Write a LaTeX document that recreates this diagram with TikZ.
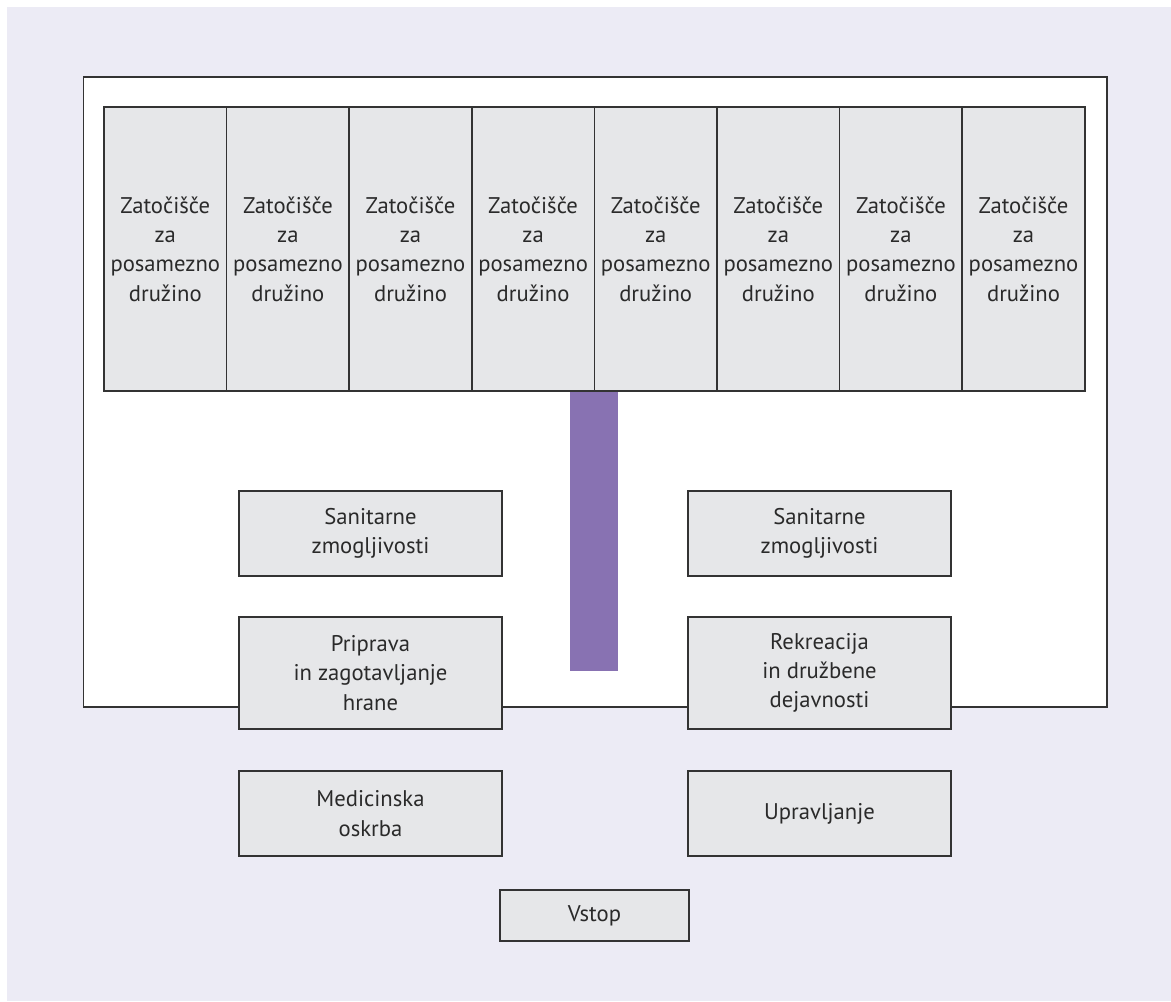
\documentclass[tikz,border=0pt]{standalone}
\usepackage{fontspec}
\setmainfont{PT Sans}
\definecolor{lav}{HTML}{ECEBF5}
\definecolor{cellgray}{HTML}{E6E7E9}
\definecolor{bordergray}{HTML}{333333}
\definecolor{purplebar}{HTML}{8872B2}
\definecolor{txt}{HTML}{2A2A2A}
\begin{document}
\begin{tikzpicture}[x=0.75pt,y=-0.75pt,
  cell/.style={draw=bordergray,line width=1.1pt,fill=cellgray,inner sep=0pt,
    minimum width=91.97pt,minimum height=213pt,align=center,text=txt,
    font=\fontsize{17}{22}\selectfont},
  box/.style={draw=bordergray,line width=1.1pt,fill=cellgray,inner sep=0pt,
    minimum width=197.25pt,align=center,text=txt,
    font=\fontsize{17}{22}\selectfont}]
\useasboundingbox (0,0) rectangle (1171,1001);
\fill[white] (0,0) rectangle (1171,1001);
\fill[lav] (7,7) rectangle (1171,1001);
\draw[bordergray,line width=1.1pt,fill=white] (83.5,77) rectangle (1107,707);
\foreach \i in {0,...,7}{
  \node[cell] (c\i) at ({165.3+122.6*\i},249) {Zatočišče\\za\\posamezno\\družino};
}
\fill[purplebar] (570,392) rectangle (618,670.5);
\node[box,minimum height=63.75pt] (san1) at (370.5,533.5) {Sanitarne\\zmogljivosti};
\node[box,minimum height=63.75pt] (san2) at (819.5,533.5) {Sanitarne\\zmogljivosti};
\node[box,minimum height=84pt] (prip) at (370.5,673) {Priprava\\in zagotavljanje\\hrane};
\node[box,minimum height=84pt] (rekr) at (819.5,673) {Rekreacija\\in družbene\\dejavnosti};
\node[box,minimum height=63.75pt] (med) at (370.5,813.5) {Medicinska\\oskrba};
\node[box,minimum height=63.75pt] (upr) at (819.5,813.5) {Upravljanje};
\node[box,minimum width=141.75pt,minimum height=38.25pt] (vstop) at (594.5,915.5) {Vstop};
\end{tikzpicture}
\end{document}
